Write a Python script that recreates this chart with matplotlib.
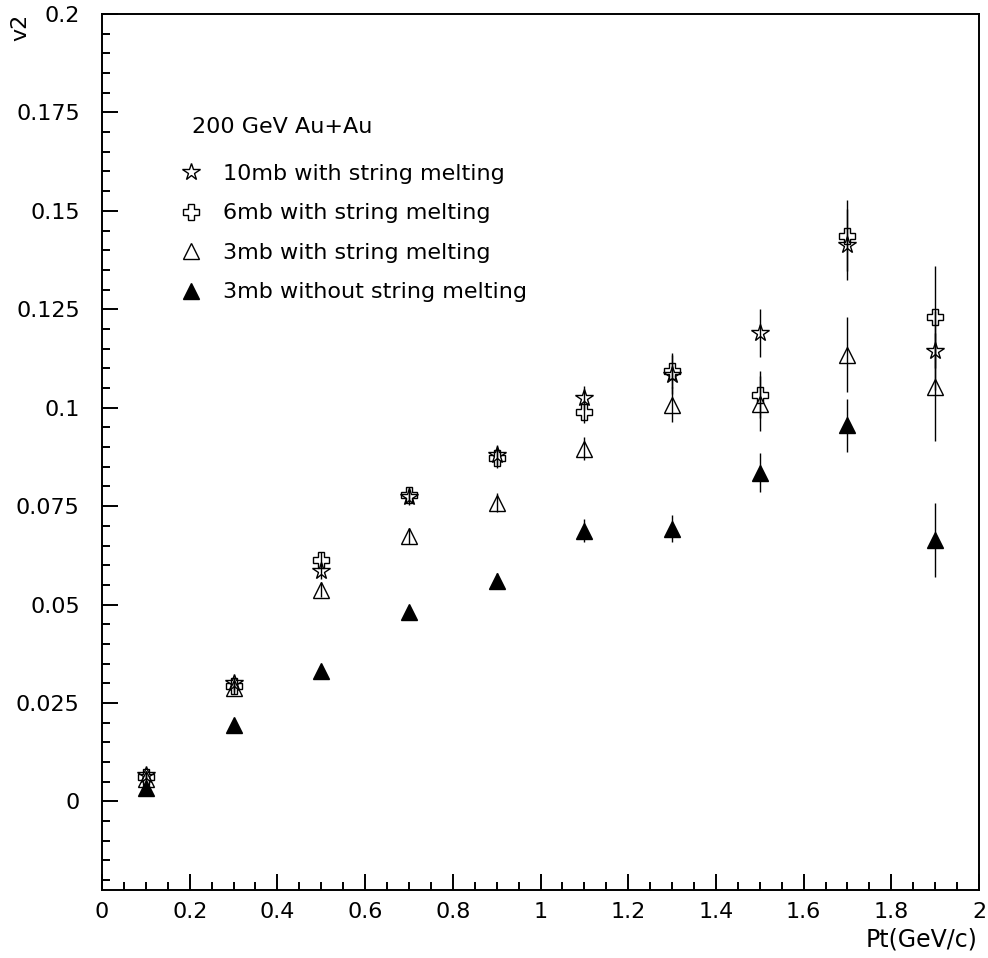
import numpy as np
import matplotlib
matplotlib.use("Agg")
import matplotlib.pyplot as plt
from matplotlib.ticker import MultipleLocator, FormatStrFormatter
from matplotlib.lines import Line2D

# pt bins (GeV/c)
pt = [0.1, 0.3, 0.5, 0.7, 0.9, 1.1, 1.3, 1.5, 1.7, 1.9]

# 10mb with string melting
v2_10mb = [0.0066, 0.0300, 0.0586, 0.0774, 0.0880, 0.1025, 0.1084, 0.1190, 0.1414, 0.1145]
err_10mb = [0.001, 0.0015, 0.002, 0.002, 0.0025, 0.003, 0.005, 0.006, 0.009, 0.010]
# 6mb with string melting
v2_6mb = [0.0063, 0.0294, 0.0614, 0.0779, 0.0871, 0.0990, 0.1094, 0.1033, 0.1437, 0.1230]
err_6mb = [0.001, 0.0015, 0.002, 0.002, 0.0025, 0.003, 0.0045, 0.006, 0.009, 0.013]
# 3mb with string melting
v2_3mb = [0.0056, 0.0287, 0.0538, 0.0675, 0.0759, 0.0896, 0.1008, 0.1010, 0.1135, 0.1053]
err_3mb = [0.001, 0.0015, 0.002, 0.002, 0.0025, 0.003, 0.0045, 0.007, 0.0095, 0.0137]
# 3mb without string melting
v2_3mb_nosm = [0.0033, 0.0193, 0.0330, 0.0480, 0.0560, 0.0688, 0.0693, 0.0835, 0.0955, 0.0665]
err_3mb_nosm = [0.0008, 0.001, 0.0015, 0.0015, 0.002, 0.003, 0.0035, 0.005, 0.0068, 0.0094]

labels = ["10mb with string melting", "6mb with string melting",
          "3mb with string melting", "3mb without string melting"]

plt.rcParams['font.family'] = ['DejaVu Sans']
fs = 16

fig = plt.figure(figsize=(9.88, 9.58), dpi=100)
ax = fig.add_axes([102/988, 68/958, 877/988, 876/958])

sty = dict(ls='none', color='k', ecolor='k', elinewidth=1.0, capsize=0, mew=1.0)
ax.errorbar(pt, v2_3mb_nosm, yerr=err_3mb_nosm, marker='^', ms=11, mfc='k', **sty)
ax.errorbar(pt, v2_3mb, yerr=err_3mb, marker='^', ms=11, mfc='none', **sty)
ax.errorbar(pt, v2_6mb, yerr=err_6mb, marker='P', ms=12, mfc='none', **sty)
ax.errorbar(pt, v2_10mb, yerr=err_10mb, marker='*', ms=13, mfc='none', **sty)

ax.set_xlim(0, 2)
ax.set_ylim(-0.0225, 0.2)
ax.xaxis.set_major_locator(MultipleLocator(0.2))
ax.xaxis.set_minor_locator(MultipleLocator(0.05))
ax.yaxis.set_major_locator(MultipleLocator(0.025))
ax.yaxis.set_minor_locator(MultipleLocator(0.005))
ax.xaxis.set_major_formatter(FormatStrFormatter('%g'))
ax.yaxis.set_major_formatter(FormatStrFormatter('%g'))
ax.tick_params(which='both', direction='in', top=False, right=False, width=1.4, labelsize=fs)
ax.tick_params(which='major', length=11.5)
ax.tick_params(which='minor', length=5.8)
ax.tick_params(axis='y', which='major', pad=16)
ax.tick_params(axis='x', which='major', pad=9)
for s in ax.spines.values():
    s.set_linewidth(1.4)

fig.text(20/988, 1 - 14/958, 'v2', rotation=90, ha='center', va='top', fontsize=fs)
fig.text(977/988, 1 - 939/958, 'Pt(GeV/c)', ha='right', va='center', fontsize=17)

ax.text(0.1026, 0.871, '200 GeV Au+Au', transform=ax.transAxes, ha='left', va='center', fontsize=fs)

handles = [
    Line2D([], [], ls='none', marker='*', ms=13, mfc='none', mec='k', mew=1.0),
    Line2D([], [], ls='none', marker='P', ms=12, mfc='none', mec='k', mew=1.0),
    Line2D([], [], ls='none', marker='^', ms=11, mfc='none', mec='k', mew=1.0),
    Line2D([], [], ls='none', marker='^', ms=11, mfc='k', mec='k', mew=1.0),
]
ax.legend(handles, labels, loc='upper left', bbox_to_anchor=(0.089, 0.829),
          frameon=False, fontsize=fs, borderpad=0, borderaxespad=0,
          handlelength=1.0, handletextpad=0.95, labelspacing=0.88, numpoints=1)

fig.savefig('out.png', dpi=100)
